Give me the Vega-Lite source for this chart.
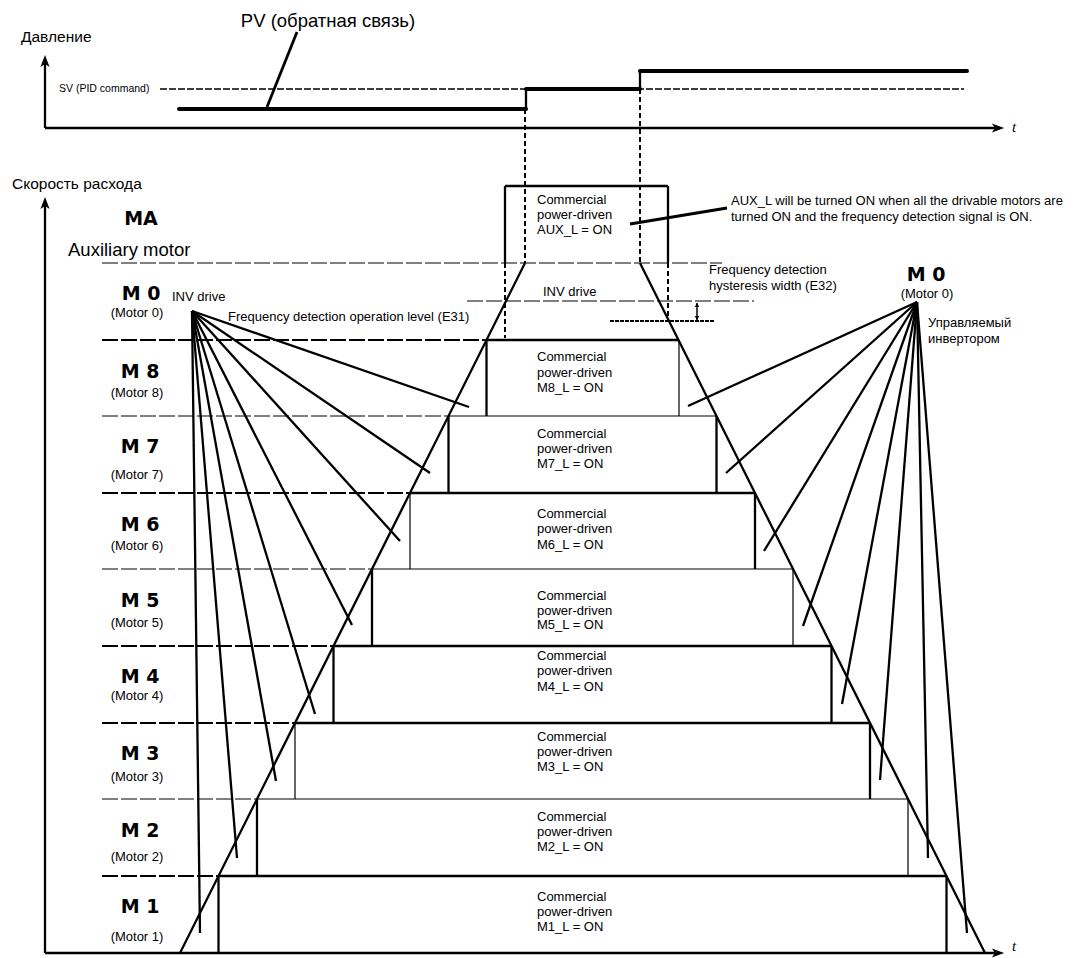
{
  "$schema": "https://vega.github.io/schema/vega-lite/v6.json",
  "width": 1080,
  "height": 958,
  "padding": 0,
  "autosize": {"type": "none"},
  "background": "white",
  "config": {"view": {"stroke": null}, "text": {"font": "Liberation Sans", "color": "black", "baseline": "middle"}},
  "datasets": {
    "segments": [
      {"k": "axis", "x": 45, "y": 128, "x2": 45, "y2": 60},
      {"k": "axis", "x": 45, "y": 128, "x2": 998, "y2": 128},
      {"k": "axis", "x": 45, "y": 953, "x2": 45, "y2": 202},
      {"k": "axis", "x": 45, "y": 953, "x2": 998, "y2": 953},
      {"k": "pv", "x": 179, "y": 109, "x2": 526, "y2": 109},
      {"k": "pv", "x": 526, "y": 89, "x2": 640, "y2": 89},
      {"k": "pv", "x": 640, "y": 71, "x2": 967, "y2": 71},
      {"k": "pvstep", "x": 526, "y": 110, "x2": 526, "y2": 88},
      {"k": "pvstep", "x": 640, "y": 90, "x2": 640, "y2": 70},
      {"k": "sv", "x": 160, "y": 89, "x2": 964, "y2": 89},
      {"k": "leader", "x": 297, "y": 32, "x2": 267, "y2": 107},
      {"k": "leader", "x": 630, "y": 224, "x2": 727, "y2": 208},
      {"k": "vdash", "x": 525, "y": 109, "x2": 525, "y2": 263},
      {"k": "vdash", "x": 640, "y": 89, "x2": 640, "y2": 263},
      {"k": "vdash", "x": 505, "y": 263, "x2": 505, "y2": 338},
      {"k": "vdash", "x": 668, "y": 263, "x2": 668, "y2": 322},
      {"k": "rowdash1", "x": 102, "y": 263, "x2": 722, "y2": 263},
      {"k": "rowdash2", "x": 102, "y": 340, "x2": 486.5, "y2": 340},
      {"k": "rowdash1", "x": 102, "y": 416, "x2": 448.5, "y2": 416},
      {"k": "rowdash2", "x": 102, "y": 493, "x2": 410, "y2": 493},
      {"k": "rowdash1", "x": 102, "y": 569, "x2": 372, "y2": 569},
      {"k": "rowdash2", "x": 102, "y": 646, "x2": 333.5, "y2": 646},
      {"k": "rowdash2", "x": 102, "y": 723, "x2": 295, "y2": 723},
      {"k": "rowdash1", "x": 102, "y": 799, "x2": 257, "y2": 799},
      {"k": "rowdash2", "x": 102, "y": 876, "x2": 218.5, "y2": 876},
      {"k": "box2", "x": 505, "y": 186, "x2": 668, "y2": 186},
      {"k": "box2", "x": 505, "y": 186, "x2": 505, "y2": 263},
      {"k": "box2", "x": 668, "y": 186, "x2": 668, "y2": 263},
      {"k": "box2", "x": 486.5, "y": 340, "x2": 679, "y2": 340},
      {"k": "box1", "x": 448.5, "y": 416, "x2": 716.5, "y2": 416},
      {"k": "box2", "x": 410, "y": 493, "x2": 755, "y2": 493},
      {"k": "box1", "x": 372, "y": 569, "x2": 793, "y2": 569},
      {"k": "box2", "x": 333.5, "y": 646, "x2": 831.5, "y2": 646},
      {"k": "box2", "x": 295, "y": 723, "x2": 870, "y2": 723},
      {"k": "box1", "x": 257, "y": 799, "x2": 908, "y2": 799},
      {"k": "box2", "x": 218.5, "y": 876, "x2": 946.5, "y2": 876},
      {"k": "box2", "x": 486.5, "y": 340, "x2": 486.5, "y2": 416},
      {"k": "box2", "x": 448.5, "y": 416, "x2": 448.5, "y2": 493},
      {"k": "box1", "x": 410, "y": 493, "x2": 410, "y2": 569},
      {"k": "box2", "x": 372, "y": 569, "x2": 372, "y2": 646},
      {"k": "box2", "x": 333.5, "y": 646, "x2": 333.5, "y2": 723},
      {"k": "box1", "x": 295, "y": 723, "x2": 295, "y2": 799},
      {"k": "box2", "x": 257, "y": 799, "x2": 257, "y2": 876},
      {"k": "box2", "x": 218.5, "y": 876, "x2": 218.5, "y2": 953},
      {"k": "box1", "x": 679, "y": 340, "x2": 679, "y2": 416},
      {"k": "box2", "x": 716.5, "y": 416, "x2": 716.5, "y2": 493},
      {"k": "box2", "x": 755, "y": 493, "x2": 755, "y2": 569},
      {"k": "box1", "x": 793, "y": 569, "x2": 793, "y2": 646},
      {"k": "box2", "x": 831.5, "y": 646, "x2": 831.5, "y2": 723},
      {"k": "box2", "x": 870, "y": 723, "x2": 870, "y2": 799},
      {"k": "box1", "x": 908, "y": 799, "x2": 908, "y2": 876},
      {"k": "box2", "x": 946.5, "y": 876, "x2": 946.5, "y2": 953},
      {"k": "ramp", "x": 525, "y": 263, "x2": 180, "y2": 953},
      {"k": "ramp", "x": 640, "y": 263, "x2": 985, "y2": 953},
      {"k": "fan", "x": 192, "y": 311, "x2": 469, "y2": 407},
      {"k": "fan", "x": 192, "y": 311, "x2": 430, "y2": 473},
      {"k": "fan", "x": 192, "y": 311, "x2": 400, "y2": 541},
      {"k": "fan", "x": 192, "y": 311, "x2": 352, "y2": 625},
      {"k": "fan", "x": 192, "y": 311, "x2": 315, "y2": 714},
      {"k": "fan", "x": 192, "y": 311, "x2": 276, "y2": 781},
      {"k": "fan", "x": 192, "y": 311, "x2": 237, "y2": 858},
      {"k": "fan", "x": 192, "y": 311, "x2": 200, "y2": 933},
      {"k": "fan", "x": 917, "y": 302, "x2": 688, "y2": 406},
      {"k": "fan", "x": 917, "y": 302, "x2": 726, "y2": 473},
      {"k": "fan", "x": 917, "y": 302, "x2": 764, "y2": 551},
      {"k": "fan", "x": 917, "y": 302, "x2": 803, "y2": 626},
      {"k": "fan", "x": 917, "y": 302, "x2": 842, "y2": 704},
      {"k": "fan", "x": 917, "y": 302, "x2": 880, "y2": 780},
      {"k": "fan", "x": 917, "y": 302, "x2": 928, "y2": 858},
      {"k": "fan", "x": 917, "y": 302, "x2": 967, "y2": 933},
      {"k": "invdash", "x": 467, "y": 301, "x2": 754, "y2": 301},
      {"k": "hystdash", "x": 610, "y": 321, "x2": 715, "y2": 321},
      {"k": "hyst", "x": 697, "y": 303, "x2": 697, "y2": 320}
    ],
    "arrows": [
      {"k": "up", "x": 45, "y": 61},
      {"k": "up", "x": 45, "y": 203},
      {"k": "right", "x": 998, "y": 128},
      {"k": "right", "x": 998, "y": 953},
      {"k": "hup", "x": 697, "y": 305},
      {"k": "hdown", "x": 697, "y": 318}
    ],
    "labels": [
      {"r": "pv", "x": 328, "y": 21, "label": "PV (обратная связь)"},
      {"r": "axis", "x": 21, "y": 37, "label": "Давление"},
      {"r": "axis", "x": 12, "y": 184, "label": "Скорость расхода"},
      {"r": "sv", "x": 59, "y": 89, "label": "SV (PID command)"},
      {"r": "t", "x": 1012, "y": 127, "label": "t"},
      {"r": "t", "x": 1012, "y": 946, "label": "t"},
      {"r": "aux", "x": 68, "y": 250, "label": "Auxiliary motor"},
      {"r": "bold", "x": 141, "y": 219, "label": "MA"},
      {"r": "bold", "x": 141, "y": 294, "label": "M 0"},
      {"r": "bold", "x": 926, "y": 275, "label": "M 0"},
      {"r": "bold", "x": 140, "y": 372, "label": "M 8"},
      {"r": "bold", "x": 140, "y": 447, "label": "M 7"},
      {"r": "bold", "x": 140, "y": 525, "label": "M 6"},
      {"r": "bold", "x": 140, "y": 601, "label": "M 5"},
      {"r": "bold", "x": 140, "y": 677, "label": "M 4"},
      {"r": "bold", "x": 140, "y": 754, "label": "M 3"},
      {"r": "bold", "x": 140, "y": 831, "label": "M 2"},
      {"r": "bold", "x": 140, "y": 907, "label": "M 1"},
      {"r": "motor", "x": 137, "y": 313, "label": "(Motor 0)"},
      {"r": "motor", "x": 927, "y": 294, "label": "(Motor 0)"},
      {"r": "motor", "x": 137, "y": 393, "label": "(Motor 8)"},
      {"r": "motor", "x": 137, "y": 475, "label": "(Motor 7)"},
      {"r": "motor", "x": 137, "y": 546, "label": "(Motor 6)"},
      {"r": "motor", "x": 137, "y": 623, "label": "(Motor 5)"},
      {"r": "motor", "x": 137, "y": 696, "label": "(Motor 4)"},
      {"r": "motor", "x": 137, "y": 777, "label": "(Motor 3)"},
      {"r": "motor", "x": 137, "y": 857, "label": "(Motor 2)"},
      {"r": "motor", "x": 137, "y": 937, "label": "(Motor 1)"},
      {"r": "body", "x": 172, "y": 297, "label": "INV drive"},
      {"r": "body", "x": 228, "y": 317, "label": "Frequency detection operation level (E31)"},
      {"r": "body", "x": 543, "y": 292, "label": "INV drive"},
      {"r": "body", "x": 731, "y": 201, "label": "AUX_L will be turned ON when all the drivable motors are"},
      {"r": "body", "x": 731, "y": 217, "label": "turned ON and the frequency detection signal is ON."},
      {"r": "body", "x": 709, "y": 270, "label": "Frequency detection"},
      {"r": "body", "x": 709, "y": 286, "label": "hysteresis width (E32)"},
      {"r": "body", "x": 928, "y": 323, "label": "Управляемый"},
      {"r": "body", "x": 928, "y": 339, "label": "инвертором"},
      {"r": "body", "x": 537, "y": 200, "label": "Commercial"},
      {"r": "body", "x": 537, "y": 215, "label": "power-driven"},
      {"r": "body", "x": 537, "y": 230, "label": "AUX_L = ON"},
      {"r": "body", "x": 537, "y": 357, "label": "Commercial"},
      {"r": "body", "x": 537, "y": 373, "label": "power-driven"},
      {"r": "body", "x": 537, "y": 388, "label": "M8_L = ON"},
      {"r": "body", "x": 537, "y": 434, "label": "Commercial"},
      {"r": "body", "x": 537, "y": 449, "label": "power-driven"},
      {"r": "body", "x": 537, "y": 464, "label": "M7_L = ON"},
      {"r": "body", "x": 537, "y": 514, "label": "Commercial"},
      {"r": "body", "x": 537, "y": 529, "label": "power-driven"},
      {"r": "body", "x": 537, "y": 545, "label": "M6_L = ON"},
      {"r": "body", "x": 537, "y": 596, "label": "Commercial"},
      {"r": "body", "x": 537, "y": 611, "label": "power-driven"},
      {"r": "body", "x": 537, "y": 625, "label": "M5_L = ON"},
      {"r": "body", "x": 537, "y": 656, "label": "Commercial"},
      {"r": "body", "x": 537, "y": 671, "label": "power-driven"},
      {"r": "body", "x": 537, "y": 687, "label": "M4_L =  ON"},
      {"r": "body", "x": 537, "y": 737, "label": "Commercial"},
      {"r": "body", "x": 537, "y": 752, "label": "power-driven"},
      {"r": "body", "x": 537, "y": 767, "label": "M3_L = ON"},
      {"r": "body", "x": 537, "y": 817, "label": "Commercial"},
      {"r": "body", "x": 537, "y": 832, "label": "power-driven"},
      {"r": "body", "x": 537, "y": 847, "label": "M2_L = ON"},
      {"r": "body", "x": 537, "y": 897, "label": "Commercial"},
      {"r": "body", "x": 537, "y": 912, "label": "power-driven"},
      {"r": "body", "x": 537, "y": 927, "label": "M1_L = ON"}
    ]
  },
  "encoding": {
    "x": {"field": "x", "type": "quantitative", "scale": {"domain": [0, 1080], "nice": false, "zero": false}, "axis": null},
    "y": {"field": "y", "type": "quantitative", "scale": {"domain": [0, 958], "nice": false, "zero": false, "reverse": true}, "axis": null}
  },
  "layer": [
    {"data": {"name": "segments"}, "transform": [{"filter": "datum.k === 'rowdash1'"}], "mark": {"type": "rule", "color": "black", "strokeWidth": 1, "strokeDash": [16, 3]}, "encoding": {"x2": {"field": "x2"}, "y2": {"field": "y2"}}},
    {"data": {"name": "segments"}, "transform": [{"filter": "datum.k === 'rowdash2'"}], "mark": {"type": "rule", "color": "black", "strokeWidth": 2, "strokeDash": [16, 3]}, "encoding": {"x2": {"field": "x2"}, "y2": {"field": "y2"}}},
    {"data": {"name": "segments"}, "transform": [{"filter": "datum.k === 'invdash'"}], "mark": {"type": "rule", "color": "black", "strokeWidth": 1, "strokeDash": [16, 3]}, "encoding": {"x2": {"field": "x2"}, "y2": {"field": "y2"}}},
    {"data": {"name": "segments"}, "transform": [{"filter": "datum.k === 'hystdash'"}], "mark": {"type": "rule", "color": "black", "strokeWidth": 2, "strokeDash": [4, 1]}, "encoding": {"x2": {"field": "x2"}, "y2": {"field": "y2"}}},
    {"data": {"name": "segments"}, "transform": [{"filter": "datum.k === 'sv'"}], "mark": {"type": "rule", "color": "black", "strokeWidth": 1.5, "strokeDash": [7, 2]}, "encoding": {"x2": {"field": "x2"}, "y2": {"field": "y2"}}},
    {"data": {"name": "segments"}, "transform": [{"filter": "datum.k === 'vdash'"}], "mark": {"type": "rule", "color": "black", "strokeWidth": 2, "strokeDash": [5, 3]}, "encoding": {"x2": {"field": "x2"}, "y2": {"field": "y2"}}},
    {"data": {"name": "segments"}, "transform": [{"filter": "datum.k === 'box1'"}], "mark": {"type": "rule", "color": "black", "strokeWidth": 1.2}, "encoding": {"x2": {"field": "x2"}, "y2": {"field": "y2"}}},
    {"data": {"name": "segments"}, "transform": [{"filter": "datum.k === 'box2' || datum.k === 'axis' || datum.k === 'pvstep' || datum.k === 'ramp' || datum.k === 'fan'"}], "mark": {"type": "rule", "color": "black", "strokeWidth": 2.3}, "encoding": {"x2": {"field": "x2"}, "y2": {"field": "y2"}}},
    {"data": {"name": "segments"}, "transform": [{"filter": "datum.k === 'hyst'"}], "mark": {"type": "rule", "color": "black", "strokeWidth": 1.5}, "encoding": {"x2": {"field": "x2"}, "y2": {"field": "y2"}}},
    {"data": {"name": "segments"}, "transform": [{"filter": "datum.k === 'leader'"}], "mark": {"type": "rule", "color": "black", "strokeWidth": 2.8}, "encoding": {"x2": {"field": "x2"}, "y2": {"field": "y2"}}},
    {"data": {"name": "segments"}, "transform": [{"filter": "datum.k === 'pv'"}], "mark": {"type": "rule", "color": "black", "strokeWidth": 4, "strokeCap": "round"}, "encoding": {"x2": {"field": "x2"}, "y2": {"field": "y2"}}},
    {"data": {"name": "arrows"}, "transform": [{"filter": "datum.k === 'up'"}], "mark": {"type": "point", "filled": true, "color": "black", "opacity": 1, "size": 150, "shape": "M0,-1L0.75,1L0,0.5L-0.75,1Z"}},
    {"data": {"name": "arrows"}, "transform": [{"filter": "datum.k === 'right'"}], "mark": {"type": "point", "filled": true, "color": "black", "opacity": 1, "size": 150, "shape": "M1,0L-1,0.75L-0.5,0L-1,-0.75Z"}},
    {"data": {"name": "arrows"}, "transform": [{"filter": "datum.k === 'hup'"}], "mark": {"type": "point", "filled": true, "color": "black", "opacity": 1, "size": 20, "shape": "triangle-up"}},
    {"data": {"name": "arrows"}, "transform": [{"filter": "datum.k === 'hdown'"}], "mark": {"type": "point", "filled": true, "color": "black", "opacity": 1, "size": 20, "shape": "triangle-down"}},
    {"data": {"name": "labels"}, "transform": [{"filter": "datum.r === 'pv'"}], "mark": {"type": "text", "fontSize": 18.5, "align": "center"}, "encoding": {"text": {"field": "label"}}},
    {"data": {"name": "labels"}, "transform": [{"filter": "datum.r === 'axis'"}], "mark": {"type": "text", "fontSize": 15.5, "align": "left"}, "encoding": {"text": {"field": "label"}}},
    {"data": {"name": "labels"}, "transform": [{"filter": "datum.r === 'sv'"}], "mark": {"type": "text", "fontSize": 10.5, "align": "left"}, "encoding": {"text": {"field": "label"}}},
    {"data": {"name": "labels"}, "transform": [{"filter": "datum.r === 'aux'"}], "mark": {"type": "text", "fontSize": 18.5, "align": "left"}, "encoding": {"text": {"field": "label"}}},
    {"data": {"name": "labels"}, "transform": [{"filter": "datum.r === 'body'"}], "mark": {"type": "text", "fontSize": 13, "align": "left"}, "encoding": {"text": {"field": "label"}}},
    {"data": {"name": "labels"}, "transform": [{"filter": "datum.r === 'motor'"}], "mark": {"type": "text", "fontSize": 13, "align": "center"}, "encoding": {"text": {"field": "label"}}},
    {"data": {"name": "labels"}, "transform": [{"filter": "datum.r === 'bold'"}], "mark": {"type": "text", "font": "DejaVu Sans", "fontWeight": "bold", "fontSize": 19, "align": "center"}, "encoding": {"text": {"field": "label"}}},
    {"data": {"name": "labels"}, "transform": [{"filter": "datum.r === 't'"}], "mark": {"type": "text", "font": "Liberation Serif", "fontStyle": "italic", "fontSize": 15, "align": "left"}, "encoding": {"text": {"field": "label"}}}
  ]
}
